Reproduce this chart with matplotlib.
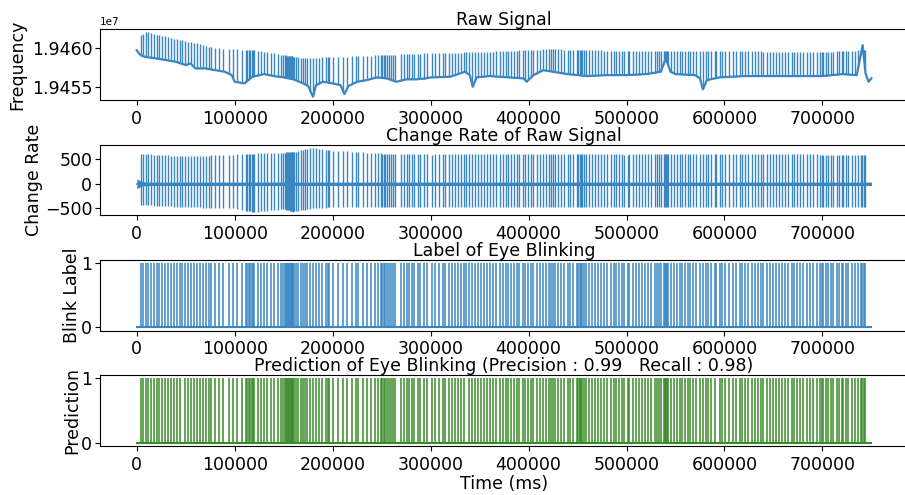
import numpy as np
import matplotlib.pyplot as plt

# ======= DATA =======
# blink onsets, in thousands of ms
blink_k = [4, 6, 9.2, 11.2, 14.3, 17.4, 20.4, 22.5, 25.5, 28.6, 31.7, 34.7, 37.8, 40.8,
           43.9, 46, 49, 52, 55, 58, 61.3, 64.3, 67.4, 70.5, 73.5, 75.6, 79.7, 83.8,
           87.8, 94, 98, 102, 107, 112, 113, 114.5, 116, 117.5, 119, 120,
           123.5, 126.6, 130, 132.7, 136.8, 140, 143.7, 147.3, 149.8,
           151, 152, 153, 154, 155, 156, 157, 158, 159, 160, 161, 162.6,
           165, 167.4, 169.4, 171.8, 174.2, 176.9, 179.7, 182.7, 186.1, 189.5, 192.9,
           194.9, 196.3, 200.8, 205.9, 211, 214.4, 219.5, 223.6, 226.3, 230.8, 234.9,
           239.2, 243.3, 246, 249, 250.5, 252, 253.5, 255, 257.3, 260, 262, 264,
           269.8, 273.3, 276, 278.4, 280.7, 283.5, 286.9, 289.6, 293, 296.4, 301.5,
           304.9, 308.3, 312.4, 315.1, 318.5, 321.8, 325.3, 327.6, 331, 333.8, 336.5,
           338.9, 342.3, 345.7, 348, 351.4, 354.2, 357.5, 361, 363.3, 366.8,
           370.7, 373.4, 376.8, 379.2, 382, 385.3, 387.8, 390.5, 393.9, 396.6, 399.6,
           402.4, 404.8, 408.2, 411.6, 414.4, 417.7, 420.5, 422.9, 424.6, 427.3, 429.7,
           433.1, 436.5, 439.9, 442.3, 445.7, 449, 450.5, 452, 453.5, 455, 456.5,
           458.4, 461.8, 464.5, 467.9, 471, 473.7, 477.1, 480.5, 483.9, 487.5, 489,
           492.6, 495.2, 497.9, 501.5, 503, 506.4, 509.8, 512.3, 515.6, 519, 521.8,
           525.2, 528.7, 531.3, 532.8, 535.4, 538, 539, 540, 541, 542, 545, 548.4,
           551.8, 554.2, 556.6, 559.4, 563, 564.5, 568, 571.4, 574.8, 578.2, 581.6,
           583.3, 586.7, 590.1, 591.8, 595.2, 597.6, 600.7, 604.1, 608.5, 611.9, 615.4,
           618, 620.8, 624.1, 627.6, 631, 634.3, 636.8, 639.4, 642.9, 646.3, 649.6,
           652.4, 655.8, 658.3, 661.6, 665, 668.5, 670.8, 673.6, 676.9, 680.3, 683.8,
           687.1, 690.5, 694.6, 698, 699.5, 701, 703.5, 705.8, 708.3, 711, 714.4,
           717.1, 719.6, 721.2, 724, 726.3, 729.8, 733.1, 736.5, 739, 740.5, 742, 743.5]
# blinks the model missed / extra predictions
missed_k = [46, 336.5, 591.8]
extra_k = [452.8]

# raw signal baseline (k ms, Hz)
base_t = [0, 2, 5, 10, 20, 30, 40, 50, 55, 60, 70, 80, 90, 97, 100, 110, 118, 130, 140,
          150, 160, 170, 175, 180, 183, 190, 200, 208, 212, 216, 225, 235, 245, 255,
          265, 275, 285, 295, 300, 320, 335, 340, 343, 347, 360, 380, 395, 398, 405,
          415, 425, 440, 460, 480, 500, 520, 535, 540, 545, 550, 570, 575, 578, 582,
          595, 620, 650, 680, 700, 720, 735, 741, 744, 747, 750]
base_v = [19459740, 19459360, 19459010, 19458850, 19458680, 19458460, 19458250,
          19457820, 19458040, 19457400, 19457400, 19457180, 19456970, 19456540,
          19455690, 19455480, 19456330, 19456670, 19456420, 19456250, 19456000,
          19455480, 19455140, 19453770, 19455260, 19455690, 19455480, 19455260,
          19454110, 19455140, 19455690, 19455900, 19456250, 19456120, 19455690,
          19456000, 19456000, 19456120, 19456250, 19456330, 19456970, 19456540,
          19455050, 19456250, 19456420, 19456250, 19456120, 19455690, 19456540,
          19457180, 19456970, 19456670, 19456420, 19456540, 19456540, 19456670,
          19456970, 19458680, 19456970, 19456670, 19456540, 19456120, 19454720,
          19455900, 19456250, 19456420, 19456420, 19456420, 19456420, 19456670,
          19456540, 19460380, 19456760, 19455690, 19456120]
# raw spike tops (k ms, Hz)
top_t = [0, 10, 40, 60, 80, 100, 120, 150, 170, 200, 250, 300, 350, 420, 500, 600, 700, 740, 750]
top_v = [19461540, 19462050, 19461150, 19460640, 19460000, 19459870, 19459740, 19459100,
         19458720, 19458850, 19459100, 19459360, 19459490, 19459870, 19459620, 19459620,
         19459490, 19459740, 19459740]

# change rate envelope (k ms, value)
rate_t = [0, 50, 100, 120, 150, 160, 180, 200, 250, 300, 400, 500, 600, 700, 750]
rate_up = [620, 560, 600, 620, 640, 650, 740, 680, 620, 600, 620, 600, 620, 600, 600]
rate_down = [-430, -480, -500, -580, -520, -570, -500, -480, -470, -470, -470, -470, -480, -470, -470]
band_t = [0, 5, 10, 750]
band_w = [100, 50, 35, 35]

xtick_vals = [0, 100000, 200000, 300000, 400000, 500000, 600000, 700000]
end_ms = 750000

blue = '#3a86c2'
green = '#3a8c2a'

blinks = np.array(blink_k) * 1000
pred = np.sort(np.array([b for b in blink_k if b not in missed_k] + extra_k) * 1000)

plt.rcParams['font.size'] = 12.5
plt.rcParams['axes.titlesize'] = 12.5
plt.rcParams['axes.titlepad'] = 2
fig, axs = plt.subplots(4, 1, figsize=(9.05, 4.95), dpi=100)
fig.subplots_adjust(left=0.1105, right=1.0035, top=0.941, bottom=0.099, hspace=0.63)

# ======= 1. RAW SIGNAL =======
ax = axs[0]
bt = np.array(base_t) * 1000
ax.plot(bt, base_v, color=blue, lw=1.6)
ax.vlines(blinks, np.interp(blinks, bt, base_v),
          np.interp(blinks, np.array(top_t) * 1000, top_v), color=blue, lw=1)
ax.ticklabel_format(axis='y', useOffset=False)
ax.yaxis.get_offset_text().set_fontsize(7.5)
ax.set_title('Raw Signal')
ax.set_ylabel('Frequency')

# ======= 2. CHANGE RATE =======
ax = axs[1]
rt = np.array(rate_t) * 1000
tb = np.array(band_t) * 1000
ax.fill_between(tb, -np.array(band_w), band_w, color=blue, lw=0)
ax.plot([0, end_ms], [0, 0], color=blue, lw=1.2)
ax.vlines(blinks, np.interp(blinks, rt, rate_down), np.interp(blinks, rt, rate_up),
          color=blue, lw=1)
ax.set_title('Change Rate of Raw Signal')
ax.set_ylabel('Change Rate', labelpad=1)

# ======= 3. LABEL =======
ax = axs[2]
ax.plot([0, end_ms], [0, 0], color=blue, lw=1.5)
ax.vlines(blinks, 0, 1, color=blue, lw=1.1)
ax.set_title('Label of Eye Blinking')
ax.set_ylabel('Blink Label', labelpad=0)

# ======= 4. PREDICTION =======
ax = axs[3]
ax.plot([0, end_ms], [0, 0], color=green, lw=1.5)
ax.vlines(pred, 0, 1, color=green, lw=1.1)
ax.set_title('Prediction of Eye Blinking (Precision : 0.99   Recall : 0.98)')
ax.set_ylabel('Prediction', labelpad=0)
ax.set_xlabel('Time (ms)', labelpad=1)

for ax in axs:
    ax.set_xticks(xtick_vals)
    ax.set_xlim(-37500, 787500)
    ax.spines['right'].set_visible(False)
    ax.tick_params(axis='y', pad=2)
for ax in axs[2:]:
    ax.set_ylim(-0.05, 1.05)

fig.savefig('out.png')
